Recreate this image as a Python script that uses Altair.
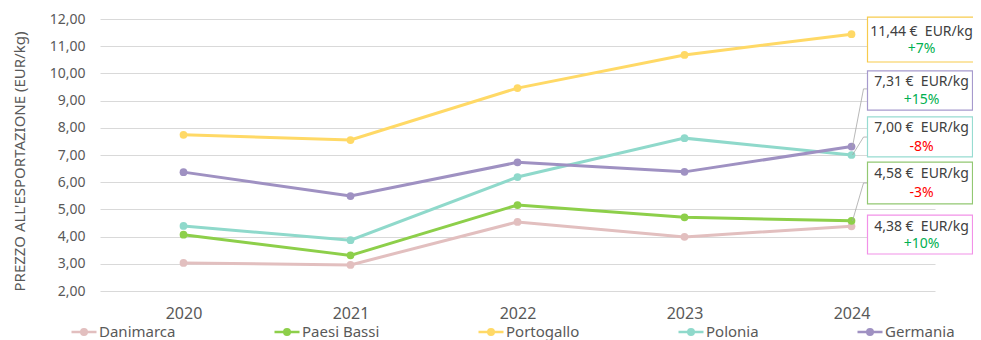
import altair as alt
import pandas as pd

# ---------------- data ----------------
years = ["2020", "2021", "2022", "2023", "2024"]
countries = ["Danimarca", "Paesi Bassi", "Portogallo", "Polonia", "Germania"]
danimarca = [3.03, 2.96, 4.54, 3.99, 4.38]
paesi_bassi = [4.07, 3.31, 5.16, 4.71, 4.58]
portogallo = [7.74, 7.55, 9.46, 10.68, 11.44]
polonia = [4.39, 3.87, 6.19, 7.62, 7.00]
germania = [6.37, 5.49, 6.73, 6.38, 7.31]
series = [danimarca, paesi_bassi, portogallo, polonia, germania]
line_colors = ["#E2BFBF", "#8DCF4A", "#FFD966", "#8FD9CB", "#9F91C2"]

# annotation boxes (2024 value and change vs 2023)
ann_countries = ["Portogallo", "Germania", "Polonia", "Paesi Bassi", "Danimarca"]
ann_change = ["+7%", "+15%", "-8%", "-3%", "+10%"]
ann_box_colors = ["#F7CB4D", "#A69ACD", "#97DCD1", "#92C872", "#F291E8"]

# ---------------- layout of the annotations (in value units) ----------------
box_top = [12.07, 10.09, 8.40, 6.74, 4.79]
box_bottom = [10.42, 8.65, 6.93, 5.20, 3.36]
line1_y = [11.52, 9.68, 7.99, 6.30, 4.35]
line2_y = [10.90, 9.02, 7.29, 5.60, 3.73]
elbow_y = [None, 9.43, 7.66, 5.97, None]

GREEN = "#00B050"
RED = "#FF0000"
TEXT = "#595959"
FONT = "Noto Sans"

rows = []
for c, vals in zip(countries, series):
    for y, v in zip(years, vals):
        rows.append({"Paese": c, "Anno": y, "Prezzo": v})
df = pd.DataFrame(rows)

last = {c: vals[-1] for c, vals in zip(countries, series)}
ann_rows = []
for i, c in enumerate(ann_countries):
    v = last[c]
    ann_rows.append({
        "Paese": c, "Anno": years[-1],
        "top": box_top[i], "bottom": box_bottom[i],
        "y1": line1_y[i], "y2": line2_y[i],
        "label1": f"{v:.2f}".replace(".", ",") + " €\u00a0\u00a0EUR/kg",
        "label2": ann_change[i],
        "c2": GREEN if ann_change[i].startswith("+") else RED,
        "box": ann_box_colors[i],
        "wide": i == 0,
    })
ann = pd.DataFrame(ann_rows)

con_rows = []
for i, c in enumerate(ann_countries):
    if elbow_y[i] is not None:
        con_rows.append({"Paese": c, "Anno": years[-1], "v": last[c], "elbow": elbow_y[i]})
con = pd.DataFrame(con_rows)

yscale = alt.Scale(domain=[2, 12], nice=False, zero=False)
xscale = alt.Scale(type="point", padding=0.5, domain=years)

x_axis = alt.Axis(title=None, labelAngle=0, ticks=False, domain=False,
                  labelFontSize=16, labelPadding=14, grid=False)
y_axis = alt.Axis(title="PREZZO ALL'ESPORTAZIONE (EUR/kg)",
                  values=list(range(2, 13)), labelOverlap=False,
                  labelExpr="replace(format(datum.value, '.2f'), '.', ',')",
                  ticks=False, domain=False, labelPadding=15,
                  labelFontSize=14, titleFontSize=15, titleFontWeight="normal",
                  titleX=-73, titleY=142, titleAnchor="middle",
                  grid=True, gridColor="#D9D9D9", gridWidth=1)

def X(field):
    return alt.X(field, scale=xscale, axis=x_axis, title=None)

def Y(field):
    return alt.Y(field, scale=yscale, axis=y_axis,
                 title="PREZZO ALL'ESPORTAZIONE (EUR/kg)")

legend_path = ("M-1,0H1"
               "M0.22,0A0.22,0.22,0,1,1,-0.22,0A0.22,0.22,0,1,1,0.22,0"
               "M0.13,0A0.13,0.13,0,1,1,-0.13,0A0.13,0.13,0,1,1,0.13,0"
               "M0.05,0A0.05,0.05,0,1,1,-0.05,0A0.05,0.05,0,1,1,0.05,0")

lines = alt.Chart(df).mark_line(
    strokeWidth=3,
    point=alt.OverlayMarkDef(filled=True, size=60),
).encode(
    x=X("Anno:N"),
    y=Y("Prezzo:Q"),
    color=alt.Color("Paese:N",
                    scale=alt.Scale(domain=countries, range=line_colors),
                    legend=alt.Legend(title=None, orient="none", direction="horizontal",
                                      legendX=-30, legendY=299,
                                      symbolType=legend_path, symbolSize=625,
                                      symbolStrokeWidth=2.5, labelFontSize=15,
                                      labelOffset=1, columnPadding=93,
                                      labelColor=TEXT, padding=0)),
    order=alt.Order("Anno:N"),
)

diag = alt.Chart(con).mark_rule(color="#A6A6A6", strokeWidth=0.8, xOffset=1, x2Offset=12).encode(
    x=X("Anno:N"), x2="Anno:N", y=Y("v:Q"), y2="elbow:Q",
)
horiz = alt.Chart(con).mark_rule(color="#A6A6A6", strokeWidth=0.8, xOffset=12, x2Offset=17).encode(
    x=X("Anno:N"), x2="Anno:N", y=Y("elbow:Q"),
)

def boxes(wide):
    base = alt.Chart(ann).transform_filter(
        "datum.wide" if wide else "!datum.wide")
    right = 140 if wide else 121
    center = 70
    rect = base.mark_rect(fill="white", strokeWidth=1.2, xOffset=16, x2Offset=right).encode(
        x=X("Anno:N"), x2="Anno:N", y=Y("top:Q"), y2="bottom:Q",
        stroke=alt.Stroke("box:N", scale=None),
    )
    t1 = base.mark_text(fontSize=14, font=FONT, color="#404040", dx=center).encode(
        x=X("Anno:N"), y=Y("y1:Q"), text="label1:N",
    )
    t2 = base.mark_text(fontSize=14, font=FONT, dx=center).encode(
        x=X("Anno:N"), y=Y("y2:Q"), text="label2:N",
        color=alt.Color("c2:N", scale=None),
    )
    return rect + t1 + t2

chart = alt.layer(lines, diag, horiz, boxes(True), boxes(False)).properties(
    width=835, height=272,
    autosize=alt.AutoSizeParams(type="none"),
    padding={"left": 92, "top": 11, "right": 38, "bottom": 49},
).configure_view(stroke=None).configure_axis(
    labelFont=FONT, titleFont=FONT, labelColor=TEXT, titleColor=TEXT,
).configure_legend(labelFont=FONT)

chart.save("out.html", embed_options={"renderer": "svg", "actions": False})
